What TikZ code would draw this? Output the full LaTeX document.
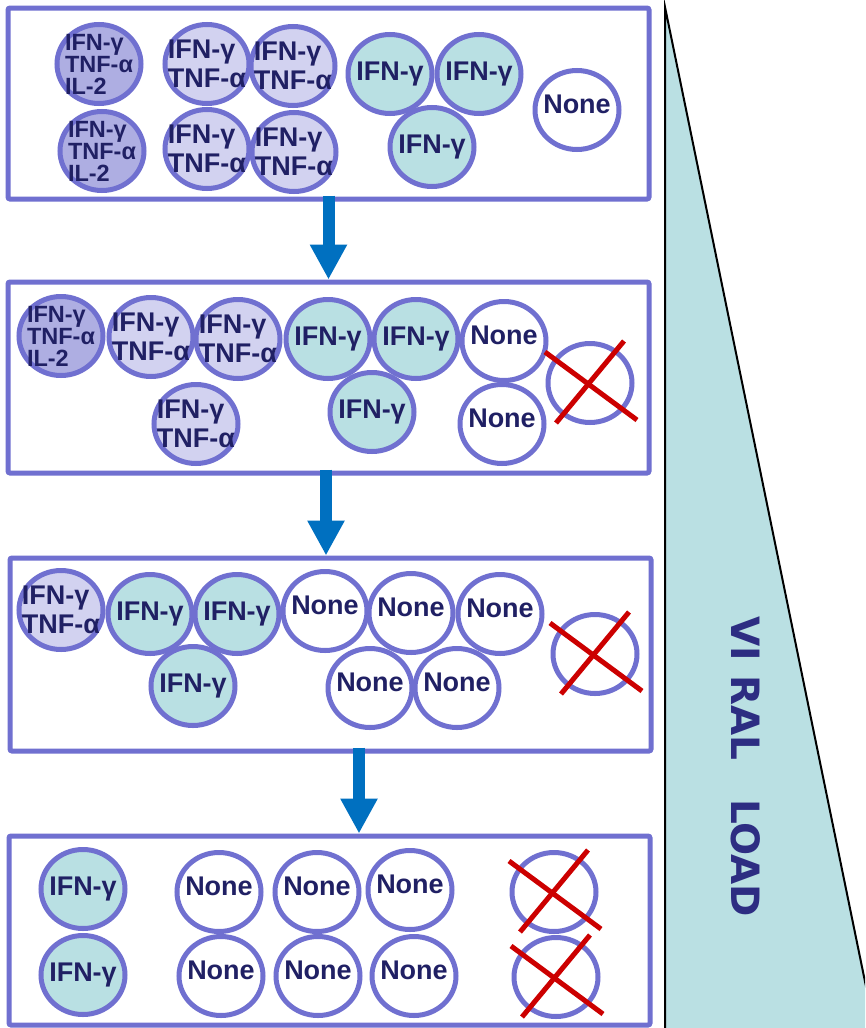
\documentclass[tikz,border=0pt]{standalone}
\usepackage{fontspec}
\setmainfont{Liberation Sans}
\newfontfamily\widefont{DejaVu Sans}
\usetikzlibrary{shapes.geometric, arrows.meta}

\definecolor{ring}{RGB}{112,112,208}
\definecolor{ink}{RGB}{32,32,100}
\definecolor{triplefill}{RGB}{174,174,226}
\definecolor{doublefill}{RGB}{210,210,240}
\definecolor{singlefill}{RGB}{185,224,227}
\definecolor{loadfill}{RGB}{186,224,227}
\definecolor{loadink}{RGB}{45,45,130}
\definecolor{flowblue}{RGB}{0,112,192}
\definecolor{strikered}{RGB}{204,0,0}

\tikzset{
  panel/.style={draw=ring, line width=5pt, rounded corners=2pt, minimum width=641pt, inner sep=0pt},
  cell/.style={ellipse, draw=ring, line width=5pt, minimum width=84pt, minimum height=79pt,
    inner sep=-16pt, text=ink, font=\bfseries\fontsize{27}{29}\selectfont, align=left},
  tri/.style={cell, fill=triplefill, font=\bfseries\fontsize{23.5}{22}\selectfont},
  duo/.style={cell, fill=doublefill},
  mono/.style={cell, fill=singlefill},
  none/.style={cell, fill=white, text depth=12pt},
  dead/.style={cell, fill=white},
  flow/.style={draw=flowblue, line width=12pt, -{Triangle[width=35pt, length=35pt]}},
  cross/.style={draw=strikered, line width=5pt},
}

% red cross over a lost cell
\newcommand\strikeout[1]{%
  \draw[cross] ([shift={(-45,-31)}]#1.center) -- ([shift={(47,37)}]#1.center);
  \draw[cross] ([shift={(-34,40)}]#1.center) -- ([shift={(34,-42)}]#1.center);}

\begin{document}
\begin{tikzpicture}[x=1pt, y=-1pt]
    \useasboundingbox (0,0) rectangle (865,1028);
    \fill[white] (0,0) rectangle (865,1028);

    % Viral load wedge
    \begin{scope}
        \clip (0,0) rectangle (865,1028);
        \filldraw[fill=loadfill, draw=black, line width=2pt] (665,7) -- (665,1040) -- (877,1040) -- cycle;
    \end{scope}
    \node[rotate=-90, text=loadink, font=\widefont\bfseries\fontsize{39}{39}\selectfont] (load) at (746,767) {VI RAL\hspace{1em}LOAD};

    % Panels
    \node[panel, minimum height=191pt] (p1) at (328.5,103.5) {};
    \node[panel, minimum height=191pt] (p2) at (328.5,377.5) {};
    \node[panel, minimum height=193pt] (p3) at (330.5,654.5) {};
    \node[panel, minimum height=189pt] (p4) at (329.5,930.5) {};

    % Arrows between panels
    \draw[flow] ([yshift=6pt]p1.south) -- (p2.north);
    \draw[flow] ([xshift=-2.5pt, yshift=6pt]p2.south) -- ([xshift=-4.5pt]p3.north);
    \draw[flow] ([xshift=28.5pt, yshift=6pt]p3.south) -- ([xshift=29.5pt]p4.north);

    % Panel 1
    \node[tri] (c1a) at (99,64) {IFN-γ\\TNF-α\\IL-2};
    \node[tri] (c1b) at (102,151) {IFN-γ\\TNF-α\\IL-2};
    \node[duo] (c1c) at (207,64) {IFN-γ\\TNF-α};
    \node[duo] (c1d) at (293,66) {IFN-γ\\TNF-α};
    \node[duo] (c1e) at (207,149) {IFN-γ\\TNF-α};
    \node[duo] (c1f) at (294,152) {IFN-γ\\TNF-α};
    \node[mono] (c1g) at (390,74) {IFN-γ};
    \node[mono] (c1h) at (479,74) {IFN-γ};
    \node[mono] (c1i) at (432,147) {IFN-γ};
    \node[none] (c1j) at (577,110) {None};

    % Panel 2
    \node[tri] (c2a) at (61,336) {IFN-γ\\TNF-α\\IL-2};
    \node[duo] (c2b) at (151,337) {IFN-γ\\TNF-α};
    \node[duo] (c2c) at (238,339) {IFN-γ\\TNF-α};
    \node[duo] (c2d) at (196,424) {IFN-γ\\TNF-α};
    \node[mono] (c2e) at (328,339) {IFN-γ};
    \node[mono] (c2f) at (416,339) {IFN-γ};
    \node[mono] (c2g) at (372,412) {IFN-γ};
    \node[none] (c2h) at (504,341) {None};
    \node[none] (c2i) at (502,424) {None};
    \node[dead] (c2x) at (590,383) {};
    \strikeout{c2x}

    % Panel 3
    \node[duo] (c3a) at (61,610) {IFN-γ\\TNF-α};
    \node[mono] (c3b) at (150,614) {IFN-γ};
    \node[mono] (c3c) at (237,614) {IFN-γ};
    \node[mono] (c3d) at (193,686) {IFN-γ};
    \node[none] (c3e) at (325,611) {None};
    \node[none] (c3f) at (411,613) {None};
    \node[none] (c3g) at (500,614) {None};
    \node[none] (c3h) at (370,688) {None};
    \node[none] (c3i) at (457,688) {None};
    \node[dead] (c3x) at (595,654) {};
    \strikeout{c3x}

    % Panel 4
    \node[mono] (c4a) at (83,889) {IFN-γ};
    \node[mono] (c4b) at (83,975) {IFN-γ};
    \node[none] (c4c) at (219,892) {None};
    \node[none] (c4d) at (317,892) {None};
    \node[none] (c4e) at (410,890) {None};
    \node[none] (c4f) at (221,976) {None};
    \node[none] (c4g) at (318,976) {None};
    \node[none] (c4h) at (414,976) {None};
    \node[dead] (c4x) at (554,892) {};
    \node[dead] (c4y) at (556,977) {};
    \strikeout{c4x}
    \strikeout{c4y}

\end{tikzpicture}
\end{document}
